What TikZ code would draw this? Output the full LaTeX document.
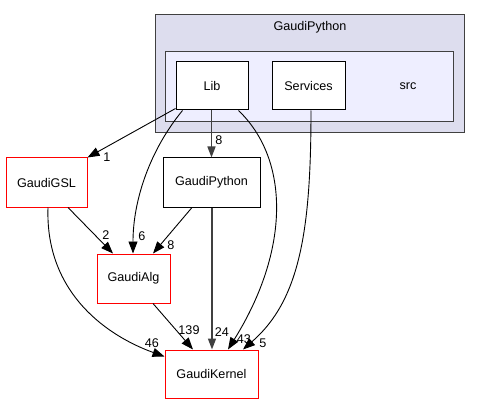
\documentclass[tikz,border=0pt]{standalone}
\usepackage{fontspec}
\setmainfont{Liberation Sans}
\usetikzlibrary{arrows.meta}
\definecolor{clout}{HTML}{DDDDEE}
\definecolor{clin}{HTML}{EEEEFF}
\definecolor{edgegray}{HTML}{404040}
\begin{document}
\begin{tikzpicture}[x=1pt,y=-1pt,
  txt/.style={font=\fontsize{12.6}{14}\selectfont},
  dirbox/.style={draw=black,line width=1pt,fill=white,inner sep=0pt,txt},
  extbox/.style={draw=red,line width=1pt,fill=white,inner sep=0pt,txt},
  dep/.style={draw=black,line width=0.9pt,-{Triangle[length=12pt,width=9pt]}},
  depthick/.style={draw=edgegray,line width=1.6pt,-{Triangle[length=11pt,width=8pt]}},
  lbl/.style={txt,inner sep=0pt}]
\useasboundingbox (0,0) rectangle (480,404);
\fill[white] (0,0) rectangle (480,404);
% clusters
\draw[fill=clout,draw=edgegray,line width=1pt] (155,15) rectangle (464,133);
\node[lbl] (cllabel) at (310,27) {GaudiPython};
\draw[fill=clin,draw=edgegray,line width=1pt] (165,52) rectangle (453,122);
\node[lbl] (srclabel) at (408,86) {src};
% nodes
\node[dirbox,minimum width=72pt,minimum height=48pt] (Lib) at (212,86) {Lib};
\node[dirbox,minimum width=73pt,minimum height=48pt] (Services) at (308.5,86) {Services};
\node[extbox,minimum width=81pt,minimum height=49pt] (GSL) at (46.5,182.5) {GaudiGSL};
\node[dirbox,minimum width=97pt,minimum height=49pt] (GP) at (211.5,182.5) {GaudiPython};
\node[extbox,minimum width=73pt,minimum height=49pt] (Alg) at (133.5,278.5) {GaudiAlg};
\node[extbox,minimum width=93pt,minimum height=48pt] (Kern) at (211.5,374) {GaudiKernel};
% edges
\draw[dep] ([yshift=2pt]Lib.south west) -- (GSL.north east);
\node[lbl] (l1) at (107,157) {1};
\draw[dep] ([xshift=7pt]Lib.south west) .. controls (150,150) and (133,200) .. ([xshift=-0.5pt]Alg.north);
\node[lbl] (l6) at (142,236) {6};
\draw[depthick] ([xshift=-0.5pt]Lib.south) -- (GP.north);
\node[lbl] (l8a) at (219,140) {8};
\draw[dep] ([xshift=-10pt]Lib.south east) .. controls (290,160) and (290,250) .. ([xshift=16.5pt]Kern.north);
\node[lbl] (l43) at (244,339) {43};
\draw[dep] ([xshift=2.5pt]Services.south) .. controls (311,230) and (300,300) .. ([xshift=31.5pt]Kern.north);
\node[lbl] (l5) at (263,343) {5};
\draw[dep] ([xshift=21.5pt]GSL.south) -- ([xshift=-20.5pt]Alg.north);
\node[lbl] (l2) at (106,235) {2};
\draw[dep] ([xshift=-19.5pt]GP.south) -- ([xshift=19.5pt]Alg.north);
\node[lbl] (l8b) at (171,245) {8};
\draw[dep] ([xshift=1.5pt]GSL.south) .. controls (45,295) and (110,337) .. ([yshift=-7pt]Kern.north west);
\node[lbl] (l46) at (152,343) {46};
\draw[dep] ([xshift=19.5pt]Alg.south) -- ([xshift=-18.5pt]Kern.north);
\node[lbl] (l139) at (189,330) {139};
\draw[depthick] ([xshift=0.5pt]GP.south) -- ([xshift=0.5pt]Kern.north);
\node[lbl] (l24) at (222,332) {24};
\end{tikzpicture}
\end{document}
